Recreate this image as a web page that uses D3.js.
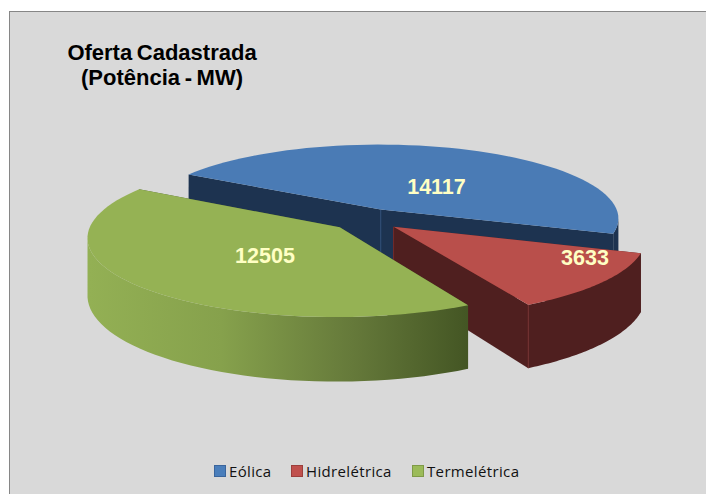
<!DOCTYPE html>
<html>
<head>
<meta charset="utf-8">
<script src="https://cdnjs.cloudflare.com/ajax/libs/d3/7.8.5/d3.min.js"></script>
<style>
html, body { margin: 0; padding: 0; background: #fff; }
svg { display: block; }
</style>
</head>
<body>
<svg id="chart" width="706" height="494"></svg>
<script>
// values
var categories = ["Eólica", "Hidrelétrica", "Termelétrica"];
var potencia = [14117, 3633, 12505];
var titleLines = ["Oferta Cadastrada", "(Potência - MW)"];

var topColors = ["#4a7bb5", "#b94f4b", "#95b254"];
var wallColors = ["#1d3350", "#4f1f1f", "#46582a"];
var seamColors = ["#2a4a75", "#722c2c", "#46582a"];
var legendColors = ["#4a7ebb", "#c0504d", "#9bbb59"];
var legendEdges = ["#3a659c", "#9c3f3c", "#7f9a47"];
var legendX = [214, 291, 412];
var labelAt = [[436.5, 187], [585, 258], [265, 256]];
var sliceRadius = [0.97, 1, 1];

// pie plane -> screen, simple perspective
var cx = 366, cy = 219.5, rx = 247, ry = 77, persp = 0.12, depth = 56, explode = 0.145;
var startDeg = -59.2;

function project(a, r, mid, drop) {
    var u = r * Math.sin(a) + explode * Math.sin(mid);
    var v = -r * Math.cos(a) - explode * Math.cos(mid);
    var k = 1 / (1 - persp * v);
    return [cx + rx * u * k, cy + ry * v * k + (drop ? depth * k : 0)];
}

var svg = d3.select("#chart");
var line = d3.line();

// panel runs past the right and bottom of the picture
svg.append("rect")
    .attr("x", 9.5).attr("y", 11.5)
    .attr("width", 720).attr("height", 510)
    .attr("fill", "#d9d9d9").attr("stroke", "#868686");

var grad = svg.append("defs").append("linearGradient")
    .attr("id", "greenWall")
    .attr("gradientUnits", "userSpaceOnUse")
    .attr("x1", 89).attr("x2", 467).attr("y1", 0).attr("y2", 0);
grad.selectAll("stop")
    .data([[0, "#93b054"], [0.35, "#86a14c"], [0.7, "#65793a"], [1, "#445624"]])
    .join("stop")
    .attr("offset", d => d[0])
    .attr("stop-color", d => d[1]);

var pie = d3.pie().sort(null)
    .startAngle(startDeg * Math.PI / 180)
    .endAngle((360 + startDeg) * Math.PI / 180);
var slices = pie(potencia);

// draw order as in the reference: blue at the back, green in front
slices.forEach(function (d, i) {
    var mid = (d.startAngle + d.endAngle) / 2;
    var r = sliceRadius[i];
    var angles = d3.range(0, 61).map(t => d.startAngle + (d.endAngle - d.startAngle) * t / 60);
    var arcTop = angles.map(a => project(a, r, mid, false));
    var arcBottom = angles.map(a => project(a, r, mid, true));
    var apexTop = project(0, 0, mid, false);
    var apexBottom = project(0, 0, mid, true);
    var g = svg.append("g");

    // the two cut faces
    [arcTop[0], arcTop[60]].forEach(function (p, j) {
        var q = j == 0 ? arcBottom[0] : arcBottom[60];
        g.append("path")
            .attr("d", line([apexTop, p, q, apexBottom]) + "Z")
            .attr("fill", wallColors[i]);
    });
    // outer wall, only the part facing the viewer (x falls along the arc there)
    var front = d3.range(0, 61).filter(j => (j < 60 && arcTop[j + 1][0] < arcTop[j][0]) || (j > 0 && arcTop[j][0] < arcTop[j - 1][0]));
    g.append("path")
        .attr("d", line(front.map(j => arcTop[j]).concat(front.map(j => arcBottom[j]).reverse())) + "Z")
        .attr("fill", i == 2 ? "url(#greenWall)" : wallColors[i]);
    // seam under the apex, and under the red corner
    g.append("path")
        .attr("d", line([apexTop, apexBottom]))
        .attr("stroke", seamColors[i]).attr("fill", "none");
    if (i == 1) {
        g.append("path")
            .attr("d", line([arcTop[60], arcBottom[60]]))
            .attr("stroke", seamColors[i]).attr("fill", "none");
    }
    // top face
    g.append("path")
        .attr("d", line([apexTop].concat(arcTop)) + "Z")
        .attr("fill", topColors[i]);
});

svg.selectAll(".val")
    .data(potencia)
    .join("text")
    .attr("class", "val")
    .attr("x", (d, i) => labelAt[i][0])
    .attr("y", (d, i) => labelAt[i][1] + 7)
    .attr("text-anchor", "middle")
    .attr("font-family", "Liberation Sans")
    .attr("font-weight", "bold")
    .attr("font-size", 21.5)
    .attr("fill", "#ffffc4")
    .text(d => d);

svg.selectAll(".title")
    .data(titleLines)
    .join("text")
    .attr("class", "title")
    .attr("x", 162)
    .attr("y", (d, i) => 60 + i * 25)
    .attr("text-anchor", "middle")
    .attr("font-family", "Liberation Sans")
    .attr("font-weight", "bold")
    .attr("font-size", 22)
    .attr("word-spacing", -1.5)
    .attr("fill", "#000")
    .text(d => d);

var legend = svg.selectAll(".legend")
    .data(categories)
    .join("g")
    .attr("class", "legend")
    .attr("transform", (d, i) => "translate(" + legendX[i] + ",465)");
legend.append("rect")
    .attr("x", 0.5).attr("y", 0.5)
    .attr("width", 11).attr("height", 11)
    .attr("fill", (d, i) => legendColors[i])
    .attr("stroke", (d, i) => legendEdges[i]);
legend.append("text")
    .attr("x", 15).attr("y", 12)
    .attr("font-family", "Open Sans")
    .attr("font-size", 15)
    .attr("letter-spacing", 0.35)
    .attr("fill", "#111")
    .text(d => d);
</script>
</body>
</html>
